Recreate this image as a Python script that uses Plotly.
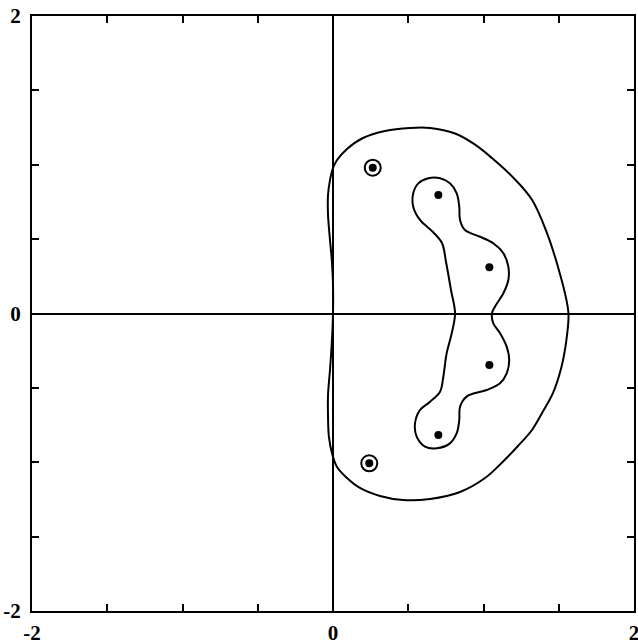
import plotly.graph_objects as go

# Zeros of the polynomial (real, imaginary parts)
zero_re = [0.264, 0.700, 1.039, 1.039, 0.700, 0.241]
zero_im = [0.980, 0.797, 0.311, -0.346, -0.817, -1.007]

# Zeros enclosed by their own tiny level-curve component
ring_re = [0.264, 0.241]
ring_im = [0.980, -1.007]

# Outer level curve, traced clockwise from the upper crossing of the imaginary axis
outer_re = [0.000, 0.027, 0.093, 0.199, 0.346, 0.512, 0.645, 0.811, 0.944, 1.056,
            1.196, 1.322, 1.422, 1.495, 1.551, 1.565, 1.551, 1.518, 1.462, 1.389,
            1.322, 1.229, 1.130, 1.010, 0.844, 0.645, 0.465, 0.312, 0.179, 0.093,
            0.027, -0.007, -0.027, -0.033, -0.033, -0.020, -0.007, 0.000, 0.000,
            -0.007, -0.020, -0.033, -0.033, -0.020, 0.000]
outer_im = [0.978, 1.032, 1.106, 1.180, 1.227, 1.247, 1.247, 1.210, 1.135, 1.045,
            0.915, 0.765, 0.541, 0.313, 0.091, -0.010, -0.178, -0.360, -0.534, -0.669,
            -0.783, -0.891, -0.995, -1.106, -1.200, -1.247, -1.254, -1.227, -1.173, -1.106,
            -1.032, -0.938, -0.830, -0.696, -0.548, -0.380, -0.178, 0.000, 0.192,
            0.346, 0.494, 0.662, 0.797, 0.897, 0.978]

# Inner level curve, traced clockwise from its left crossing of the real axis
inner_re = [0.811, 0.784, 0.751, 0.724, 0.664, 0.578, 0.533, 0.533, 0.567, 0.633,
            0.711, 0.777, 0.822, 0.839, 0.844, 0.877, 0.977, 1.065, 1.132, 1.165,
            1.165, 1.132, 1.076, 1.056, 1.065, 1.110, 1.154, 1.171, 1.154, 1.110,
            1.021, 0.888, 0.844, 0.839, 0.822, 0.777, 0.689, 0.611, 0.556, 0.545,
            0.578, 0.645, 0.711, 0.733, 0.755, 0.789, 0.811]
inner_im = [0.000, 0.158, 0.346, 0.474, 0.548, 0.629, 0.718, 0.808, 0.875, 0.909,
            0.909, 0.875, 0.808, 0.718, 0.629, 0.561, 0.516, 0.472, 0.405, 0.315,
            0.225, 0.136, 0.046, 0.000, -0.066, -0.133, -0.223, -0.313, -0.402, -0.469,
            -0.514, -0.559, -0.627, -0.716, -0.805, -0.873, -0.906, -0.895, -0.828, -0.738,
            -0.649, -0.593, -0.526, -0.425, -0.268, -0.133, 0.000]

tick_vals = [-2, -1.5, -1, -0.5, 0, 0.5, 1, 1.5, 2]
tick_text = ["-2", "", "", "", "0", "", "", "", "2"]

fig = go.Figure()

line_style = dict(color="black", width=2, shape="spline", smoothing=1.0)
fig.add_trace(go.Scatter(x=outer_re, y=outer_im, mode="lines", line=line_style,
                         hoverinfo="skip"))
fig.add_trace(go.Scatter(x=inner_re, y=inner_im, mode="lines", line=line_style,
                         hoverinfo="skip"))
fig.add_trace(go.Scatter(x=ring_re, y=ring_im, mode="markers",
                         marker=dict(symbol="circle-open", size=16, color="black",
                                     line=dict(width=2, color="black")),
                         hoverinfo="skip"))
fig.add_trace(go.Scatter(x=zero_re, y=zero_im, mode="markers",
                         marker=dict(symbol="circle", size=8, color="black"),
                         hoverinfo="skip"))

axis_common = dict(
    range=[-2, 2],
    tickmode="array",
    tickvals=tick_vals,
    ticktext=tick_text,
    ticks="inside",
    ticklen=7,
    tickwidth=2,
    tickcolor="black",
    showline=True,
    linewidth=2,
    linecolor="black",
    mirror="ticks",
    showgrid=False,
    zeroline=True,
    zerolinewidth=2,
    zerolinecolor="black",
    automargin=False,
    ticklabeloverflow="allow",
    tickfont=dict(family="Liberation Serif", size=21, color="black", weight="bold"),
)

fig.update_xaxes(**axis_common, ticklabelstandoff=2)
fig.update_yaxes(**axis_common, ticklabelstandoff=5)

fig.update_layout(
    width=638,
    height=644,
    margin=dict(l=32, r=4, t=16, b=33),
    paper_bgcolor="white",
    plot_bgcolor="white",
    showlegend=False,
)

fig.write_html("out.html")
